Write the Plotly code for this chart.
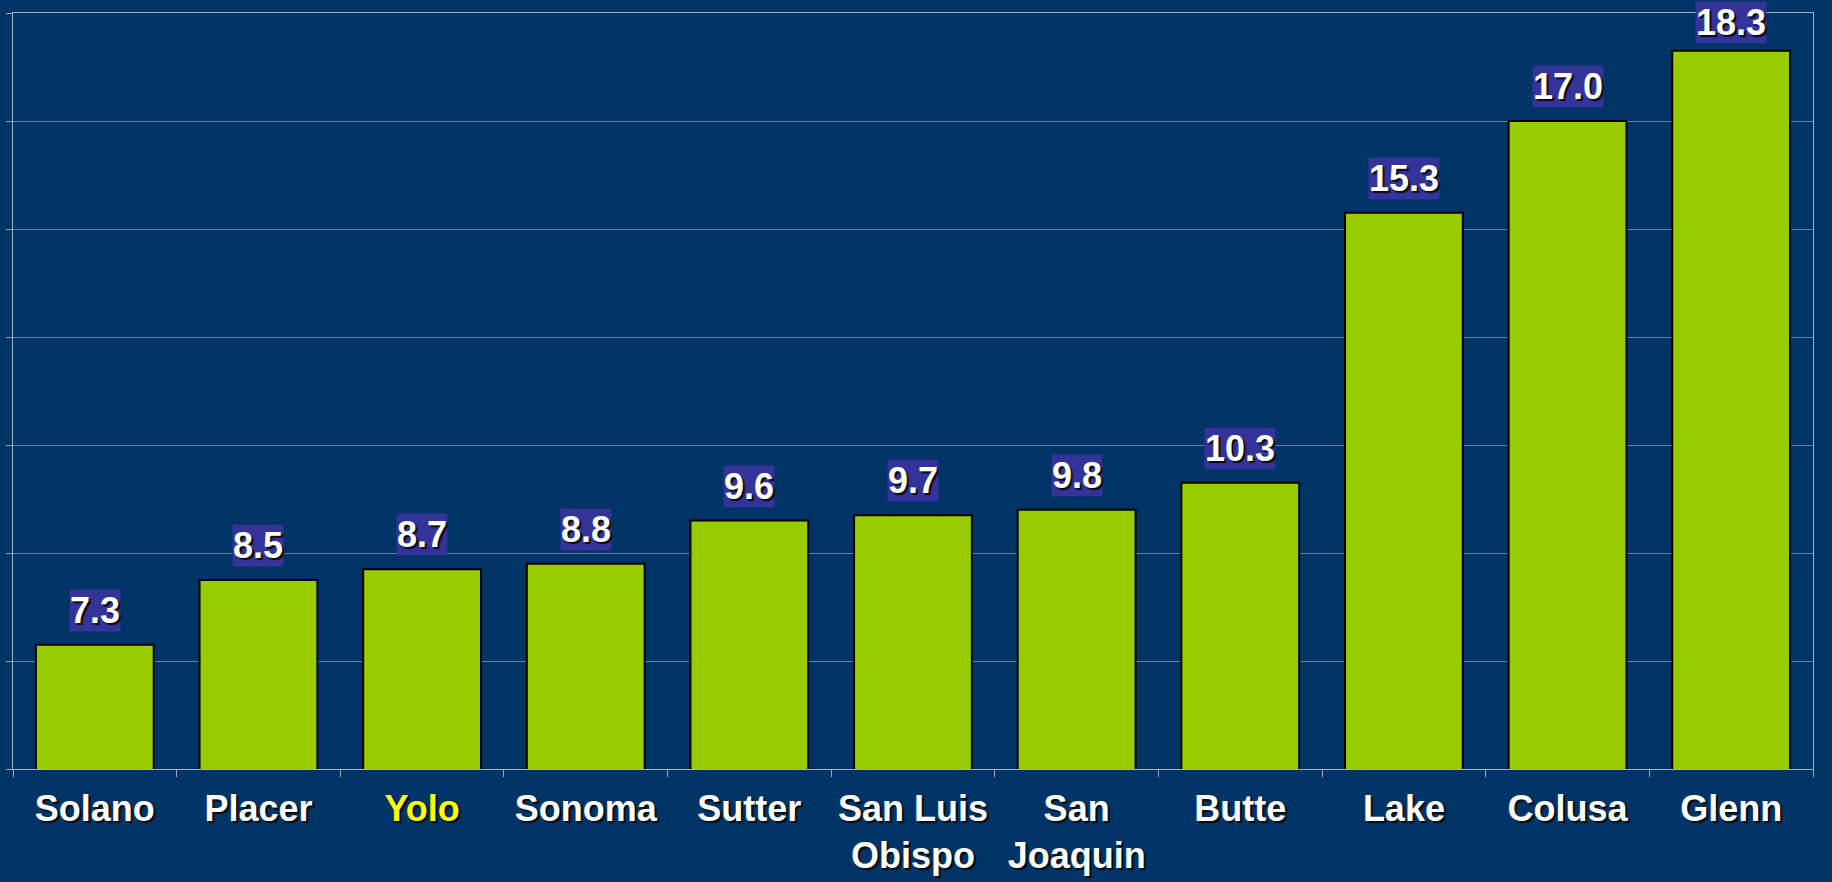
import plotly.graph_objects as go

# Counties and their values
counties = ["Solano", "Placer", "Yolo", "Sonoma", "Sutter", "San Luis<br>Obispo",
            "San<br>Joaquin", "Butte", "Lake", "Colusa", "Glenn"]
values = [7.3, 8.5, 8.7, 8.8, 9.6, 9.7, 9.8, 10.3, 15.3, 17.0, 18.3]
highlight = "Yolo"

FONT = "Arial, Liberation Sans, sans-serif"
SHADOW = "2px 2px 1px #0a0a0a"
W, H = 1832, 882
MARGIN = dict(l=13, r=19, t=13, b=113)
Y_RANGE = [5, 19]

tick_text = [f"<span style='color:#FFFF00'>{c}</span>" if c == highlight else c
             for c in counties]

fig = go.Figure()
fig.add_trace(go.Bar(
    x=counties, y=values,
    marker=dict(color="#99CC00", line=dict(color="#000000", width=2)),
    width=0.72,
    hoverinfo="x+y",
))

# Value labels in purple boxes above the bars
# (pulled down a bit when the box would run off the top, like the original)
plot_h = H - MARGIN["t"] - MARGIN["b"]
for c, v in zip(counties, values):
    bar_top_px = MARGIN["t"] + (Y_RANGE[1] - v) / (Y_RANGE[1] - Y_RANGE[0]) * plot_h
    shift = min(13, bar_top_px - 44)
    fig.add_annotation(
        x=c, y=v, text=f"<b>{v:.1f}</b>", showarrow=False,
        yanchor="bottom", yshift=shift,
        bgcolor="#333399", borderpad=0,
        font=dict(family=FONT, size=36, color="white", shadow=SHADOW),
    )

fig.update_layout(
    width=W, height=H,
    paper_bgcolor="#003366", plot_bgcolor="#003366",
    margin=dict(**MARGIN, autoexpand=False),
    showlegend=False,
    bargap=0.28,
)
fig.update_xaxes(
    tickvals=counties, ticktext=[f"<b>{t}</b>" for t in tick_text],
    tickson="boundaries", ticks="outside", ticklen=7, tickcolor="#A0A8B8",
    ticklabelstandoff=8,
    showline=True, linecolor="#A8B0C0", linewidth=1, mirror=True,
    tickfont=dict(family=FONT, size=36, color="white", shadow=SHADOW),
    showgrid=False, automargin=False,
)
fig.update_yaxes(
    range=Y_RANGE, tick0=5, dtick=2, showticklabels=False,
    ticks="outside", ticklen=6, tickcolor="#A0A8B8",
    showline=True, linecolor="#A8B0C0", linewidth=1, mirror=True,
    gridcolor="rgba(170,180,195,0.6)", gridwidth=1, zeroline=False,
    automargin=False,
)

# drop the page margin so the figure fills the window
fig.write_html("out.html",
               config={"displayModeBar": False},
               post_script="document.body.style.margin='0';"
                           "document.body.style.overflow='hidden';")
